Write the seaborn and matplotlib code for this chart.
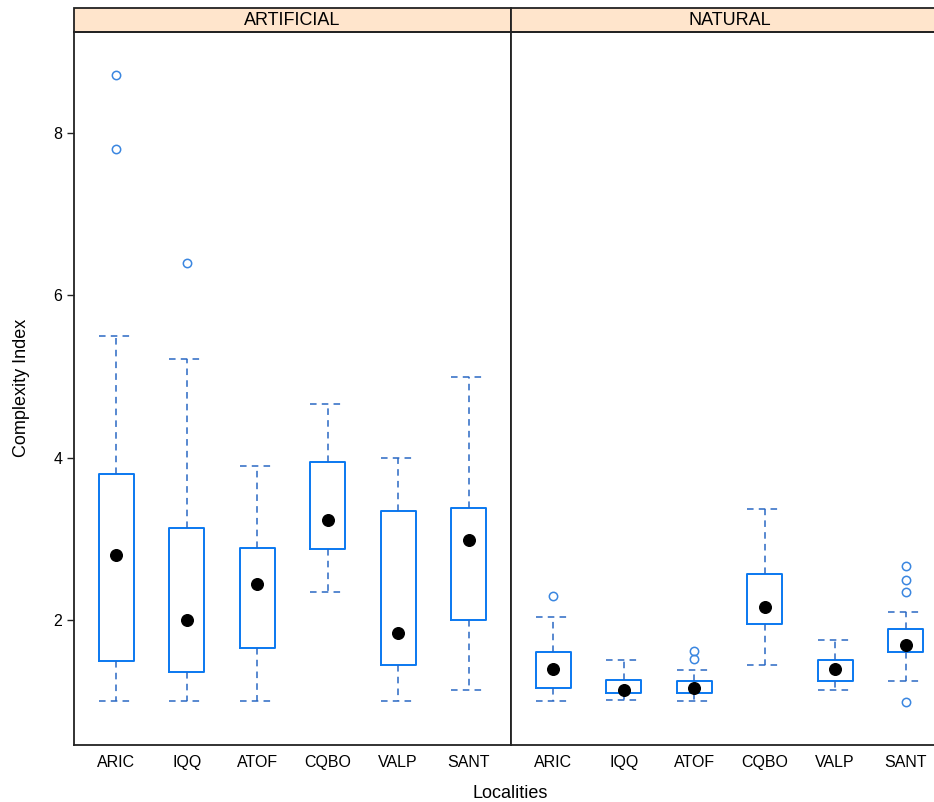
import numpy as np
import pandas as pd
import matplotlib
matplotlib.use("Agg")
import matplotlib.pyplot as plt
from matplotlib.patches import Rectangle
import seaborn as sns

# --- data (box-and-whisker summaries) ---
localities = ["ARIC", "IQQ", "ATOF", "CQBO", "VALP", "SANT"]
panels = ["ARTIFICIAL", "NATURAL"]

art_whislo = [1.00, 1.00, 1.00, 2.34, 1.00, 1.14]
art_q1 = [1.50, 1.36, 1.66, 2.87, 1.45, 2.00]
art_med = [2.80, 2.00, 2.44, 3.23, 1.84, 2.98]
art_q3 = [3.80, 3.13, 2.89, 3.94, 3.34, 3.38]
art_whishi = [5.50, 5.21, 3.89, 4.66, 3.99, 4.99]
art_fliers = [[8.71, 7.80], [6.39], [], [], [], []]

nat_whislo = [1.00, 1.01, 1.00, 1.45, 1.14, 1.25]
nat_q1 = [1.16, 1.10, 1.10, 1.95, 1.25, 1.60]
nat_med = [1.39, 1.14, 1.16, 2.16, 1.39, 1.69]
nat_q3 = [1.60, 1.26, 1.25, 2.57, 1.51, 1.89]
nat_whishi = [2.04, 1.51, 1.38, 3.37, 1.75, 2.10]
nat_fliers = [[2.30], [], [1.62, 1.52], [], [], [2.66, 2.49, 2.35, 0.99]]

BLUE = "#0a78f0"
WHISK = "#2a68c4"
STRIP = "#ffe5cc"
EDGE = "#222222"

df = pd.DataFrame({
    "panel": [panels[0]] * 6 + [panels[1]] * 6,
    "locality": localities * 2,
    "whislo": art_whislo + nat_whislo,
    "q1": art_q1 + nat_q1,
    "med": art_med + nat_med,
    "q3": art_q3 + nat_q3,
    "whishi": art_whishi + nat_whishi,
    "fliers": art_fliers + nat_fliers,
})

sns.set_style("white")
plt.rcParams["font.family"] = ["Liberation Sans", "DejaVu Sans"]
plt.rcParams["text.color"] = "black"
plt.rcParams["xtick.color"] = "black"
plt.rcParams["ytick.color"] = "black"


def draw_bw(data, color=None, **kws):
    ax = plt.gca()
    stats = []
    for _, r in data.iterrows():
        stats.append(dict(label=r["locality"], whislo=r["whislo"], q1=r["q1"],
                          med=r["med"], q3=r["q3"], whishi=r["whishi"],
                          fliers=np.asarray(r["fliers"], dtype=float)))
    pos = np.arange(len(stats))
    dash = dict(color=WHISK, lw=1.1, ls=(0, (4.3, 3.4)))
    ax.bxp(stats, positions=pos, widths=0.5, capwidths=0.5,
           boxprops=dict(color=BLUE, lw=1.4),
           whiskerprops=dash, capprops=dash,
           medianprops=dict(visible=False),
           flierprops=dict(marker="o", mfc="none", mec="#3a86e0", ms=6, mew=1.1))
    ax.scatter(pos, data["med"], s=70, color="black", zorder=5)


g = sns.FacetGrid(df, col="panel", col_order=panels, sharey=True, sharex=True)
g.map_dataframe(draw_bw)
g.set_titles("")
g.set_axis_labels("", "")

fig = g.figure
fig.set_size_inches(9.34, 8.02)

W, H = 934.0, 802.0
left_px, top_px, bot_px, panel_w = 74.0, 32.0, 745.0, 437.0
strip_h = 24.0 / (bot_px - top_px)

for i, (ax, name) in enumerate(zip(g.axes.flat, panels)):
    ax.set_position([(left_px + i * panel_w) / W, 1 - bot_px / H,
                     panel_w / W, (bot_px - top_px) / H])
    ax.set_xlim(-0.6, 5.6)
    ax.set_ylim(0.46, 9.24)
    ax.set_xticks(range(len(localities)))
    ax.set_xticklabels(localities)
    ax.set_yticks([2, 4, 6, 8])
    ax.tick_params(axis="x", length=0, labelsize=11.5, pad=7)
    ax.tick_params(axis="y", length=5, width=1, color=EDGE, labelsize=11.5,
                   left=(i == 0), labelleft=(i == 0), direction="out")
    for sp in ax.spines.values():
        sp.set_visible(True)
        sp.set_color(EDGE)
        sp.set_linewidth(1.3)
    ax.add_patch(Rectangle((0, 1), 1, strip_h, transform=ax.transAxes,
                           facecolor=STRIP, edgecolor=EDGE, lw=1.3, clip_on=False))
    ax.text(0.5, 1 + strip_h / 2, name, transform=ax.transAxes,
            ha="center", va="center", fontsize=13)

fig.text(22 / W, 1 - 388 / H, "Complexity Index", rotation=90,
         ha="center", va="center", fontsize=13)
fig.text(510 / W, 1 - 793 / H, "Localities", ha="center", va="center", fontsize=13)

fig.savefig("out.png", dpi=100)
